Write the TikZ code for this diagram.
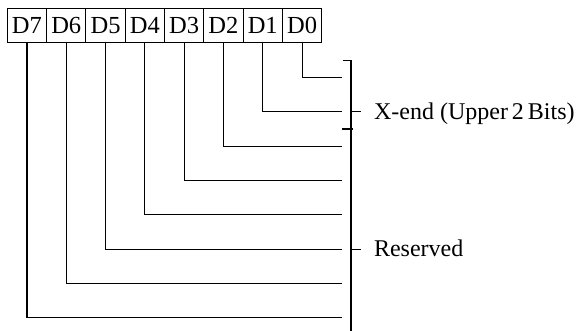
\documentclass[tikz,border=0pt]{standalone}
\usepackage{fontspec}
\setmainfont{Liberation Serif}
\begin{document}
\begin{tikzpicture}[x=1pt,y=-1pt,line width=1.1pt,
  cell/.style={draw,minimum width=39.3pt,minimum height=34.4pt,inner sep=0pt,font=\fontsize{24.5}{28}\selectfont},
  lbl/.style={anchor=base west,inner sep=0pt,font=\fontsize{24}{28}\selectfont}]
\useasboundingbox (0,0) rectangle (579,331);
\foreach \i/\n in {0/7,1/6,2/5,3/4,4/3,5/2,6/1,7/0}{
  \node[cell] (d\n) at ({7.3+39.3*(\i+0.5)},25.5) {D\n};
}
\foreach \n/\y in {0/77.7,1/111.9,2/146.2,3/180.5,4/214.8,5/249.1,6/283.4,7/317.7}{
  \coordinate (e\n) at (341.7,\y);
  \draw (d\n.south) |- (e\n);
}
% brackets
\coordinate (bt) at (351,60.5);
\coordinate (bm) at (351,129);
\coordinate (bb) at (351,340);
\coordinate (btl) at (342.5,60.5);
\coordinate (bml) at (342,129);
\coordinate (bmr) at (353,129);
\draw (btl) -- (bt) -- (bb);
\draw (bml) -- (bmr);
\coordinate (t1a) at (351,111.9);
\coordinate (t1b) at (361,111.9);
\draw (t1a) -- (t1b);
\coordinate (t2a) at (351,249.1);
\coordinate (t2b) at (361,249.1);
\draw (t2a) -- (t2b);
\node[lbl] (xend) at (373.5,120) {X-end (Upper\,2\,Bits)};
\node[lbl] (res) at (373.5,256.7) {Reserved};
\end{tikzpicture}
\end{document}
